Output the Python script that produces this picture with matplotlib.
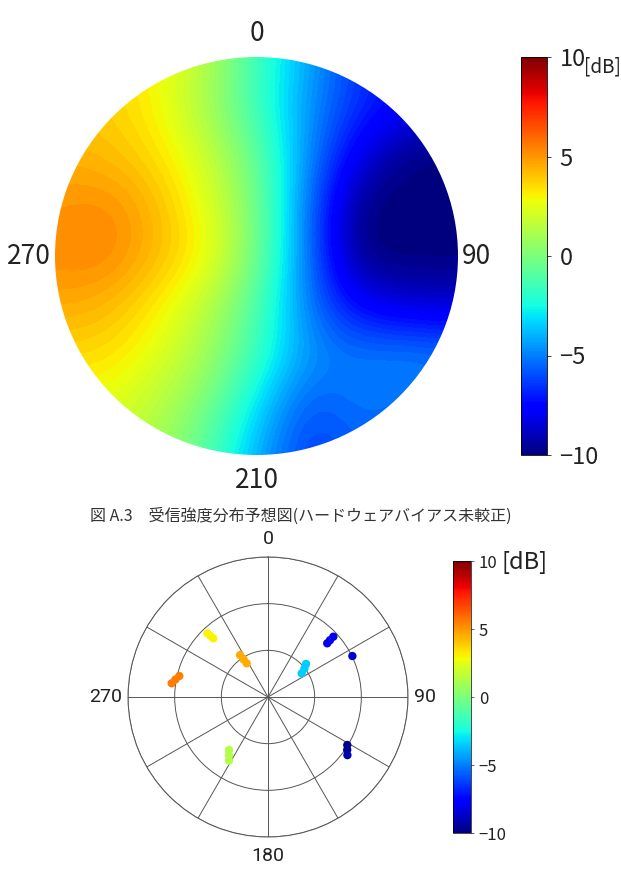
import numpy as np
import matplotlib
matplotlib.use('Agg')
import matplotlib.pyplot as plt
from matplotlib.patches import Circle
from matplotlib.colors import Normalize

plt.rcParams['font.family'] = ['Noto Sans CJK JP', 'DejaVu Sans']

# top map: values read on a 9x9 grid (u = -1..1 left->right, v = 1..-1 top->bottom)
grid_u = [-1.0, -0.75, -0.5, -0.25, 0.0, 0.25, 0.5, 0.75, 1.0]
grid_v = [1.0, 0.75, 0.5, 0.25, 0.0, -0.25, -0.5, -0.75, -1.0]
field_db = [
    [3.5, 3.5, 3.0, 1.5, -1.5, -4.0, -6.5, -7.5, -8.0],
    [4.0, 3.8, 3.0, 1.0, -1.5, -4.5, -6.5, -7.5, -8.0],
    [4.4, 4.2, 3.5, 2.0, -0.5, -4.5, -8.0, -10.0, -10.0],
    [5.0, 5.3, 4.3, 2.5, 0.0, -5.0, -10.0, -10.0, -10.0],
    [5.2, 5.5, 4.3, 3.0, 0.0, -5.0, -10.0, -10.0, -10.0],
    [4.6, 4.3, 3.2, 1.5, -1.0, -5.0, -7.5, -8.5, -8.5],
    [3.5, 3.5, 2.5, 1.0, -1.5, -4.5, -5.0, -4.5, -5.0],
    [2.5, 2.5, 1.5, 0.0, -3.0, -6.0, -5.0, -5.5, -5.5],
    [2.0, 2.0, 1.0, -1.0, -4.0, -6.5, -5.5, -5.5, -5.5],
]
top_labels = ['0', '90', '210', '270']

# bottom polar: measured points (deg clockwise from north, radius 0..1, dB)
pt_theta = [316.4, 316.7, 317.0, 326.3, 327.0, 327.7, 278.1, 280.7, 283.3,
            47.8, 47.5, 47.3, 64.1, 54.9, 52.0, 49.0,
            121.2, 123.7, 126.2, 216.3, 213.9, 211.5]
pt_r = [0.628, 0.60, 0.573, 0.36, 0.32, 0.285, 0.695, 0.673, 0.651,
        0.571, 0.60, 0.635, 0.67, 0.294, 0.33, 0.36,
        0.662, 0.68, 0.703, 0.47, 0.50, 0.533]
pt_db = [3.0, 3.0, 3.0, 4.6, 4.6, 4.6, 5.5, 5.5, 5.5,
         -8.0, -8.0, -8.0, -8.5, -3.5, -3.5, -3.5,
         -9.8, -9.5, -9.2, 1.3, 1.3, 1.3]
polar_labels = ['0', '90', '180', '270']
cbar_ticks = [-10, -5, 0, 5, 10]

caption = '図 A.3\u3000受信強度分布予想図(ハードウェアバイアス未較正)'

cmap = plt.get_cmap('jet', 80)
norm = Normalize(-10, 10)
W, H = 621, 869
fig = plt.figure(figsize=(W / 100, H / 100), dpi=100)

def box(x0, y0, x1, y1):
    return [x0 / W, 1 - y1 / H, (x1 - x0) / W, (y1 - y0) / H]

# ---- top map
ax1 = fig.add_axes(box(55, 57, 458, 455))
im = ax1.imshow(np.array(field_db), cmap=cmap, norm=norm, interpolation='bicubic',
                extent=(-1.125, 1.125, -1.125, 1.125), origin='upper', aspect='auto')
im.set_clip_path(Circle((0, 0), 1.0, transform=ax1.transData))
ax1.set_xlim(-1, 1)
ax1.set_ylim(-1, 1)
ax1.axis('off')
ax1.text(0, 1.12, top_labels[0], ha='center', va='center', fontsize=19, color='#222')
ax1.text(1.02, 0, top_labels[1], ha='left', va='center', fontsize=19, color='#222')
ax1.text(0, -1.13, top_labels[2], ha='center', va='center', fontsize=19, color='#222')
ax1.text(-1.02, 0, top_labels[3], ha='right', va='center', fontsize=19, color='#222')

cax1 = fig.add_axes(box(521, 57, 547, 455))
cb1 = fig.colorbar(plt.cm.ScalarMappable(norm=norm, cmap='jet'), cax=cax1, ticks=cbar_ticks)
cb1.ax.tick_params(labelsize=17, length=3, width=0.6, colors='#222', pad=6)
cb1.outline.set_linewidth(0.6)
fig.text(584 / W, 1 - 67 / H, '[dB]', fontsize=13.5, va='center', ha='left', color='#222')

# ---- caption
fig.text(301 / W, 1 - 516 / H, caption, fontsize=11.5, ha='center', va='center', color='#333')

# ---- bottom polar
ax2 = fig.add_axes(box(128, 557, 408, 837), projection='polar')
ax2.set_theta_zero_location('N')
ax2.set_theta_direction(-1)
ax2.scatter(np.radians(pt_theta), pt_r, c=pt_db, cmap='jet', norm=norm, s=36,
            edgecolors='none', zorder=3)
ax2.set_ylim(0, 1)
ax2.set_rgrids([1 / 3, 2 / 3, 1.0], labels=[])
ax2.set_thetagrids(np.arange(0, 360, 30), labels=[])
ax2.grid(color='#555', linewidth=0.7)
ax2.spines['polar'].set_color('#555')
ax2.spines['polar'].set_linewidth(0.7)
lbl = dict(fontsize=14, color='#222', family=['Roboto', 'DejaVu Sans'])
ax2.text(0, 1.13, polar_labels[0], ha='center', va='center', **lbl)
ax2.text(np.pi / 2, 1.04, polar_labels[1], ha='left', va='center', **lbl)
ax2.text(np.pi, 1.135, polar_labels[2], ha='center', va='center', **lbl)
ax2.text(1.5 * np.pi, 1.045, polar_labels[3], ha='right', va='center', **lbl)

cax2 = fig.add_axes(box(453, 561, 471, 833))
cb2 = fig.colorbar(plt.cm.ScalarMappable(norm=norm, cmap='jet'), cax=cax2, ticks=cbar_ticks)
cb2.ax.tick_params(labelsize=12, length=2, width=0.5, colors='#222')
cb2.outline.set_linewidth(0.5)
fig.text(501 / W, 1 - 562 / H, '[dB]', fontsize=17, va='center', ha='left', color='#222')

fig.savefig('out.png', dpi=100)
